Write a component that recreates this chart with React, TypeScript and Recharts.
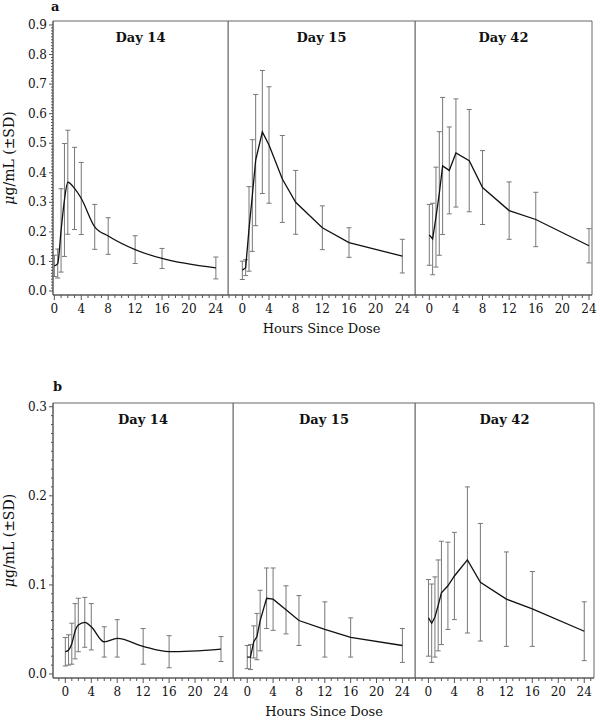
import { LineChart, Line, XAxis, YAxis, ErrorBar, ReferenceArea, Label } from 'recharts';

const hours = [0, 0.5, 1, 1.5, 2, 3, 4, 6, 8, 12, 16, 24];

// panel a
const aDay14Mean = [0.085, 0.093, 0.205, 0.308, 0.368, 0.347, 0.313, 0.217, 0.186, 0.14, 0.11, 0.078];
const aDay14Sd = [0.036, 0.049, 0.141, 0.191, 0.176, 0.139, 0.122, 0.076, 0.062, 0.047, 0.034, 0.037];
const aDay15Mean = [0.07, 0.079, 0.21, 0.323, 0.443, 0.538, 0.494, 0.379, 0.3, 0.214, 0.164, 0.118];
const aDay15Sd = [0.031, 0.027, 0.143, 0.189, 0.222, 0.208, 0.197, 0.147, 0.108, 0.074, 0.05, 0.057];
const aDay42Mean = [0.19, 0.176, 0.25, 0.33, 0.423, 0.408, 0.467, 0.441, 0.35, 0.272, 0.242, 0.153];
const aDay42Sd = [0.103, 0.121, 0.169, 0.209, 0.232, 0.147, 0.183, 0.173, 0.125, 0.097, 0.092, 0.058];

// panel b
const bDay14Mean = [0.025, 0.027, 0.034, 0.048, 0.055, 0.058, 0.053, 0.036, 0.04, 0.031, 0.025, 0.028];
const bDay14Sd = [0.016, 0.017, 0.023, 0.031, 0.03, 0.028, 0.026, 0.017, 0.021, 0.02, 0.018, 0.014];
const bDay15Mean = [0.019, 0.019, 0.036, 0.042, 0.06, 0.085, 0.084, 0.072, 0.06, 0.05, 0.041, 0.032];
const bDay15Sd = [0.013, 0.014, 0.018, 0.026, 0.034, 0.034, 0.035, 0.027, 0.028, 0.031, 0.022, 0.019];
const bDay42Mean = [0.063, 0.057, 0.064, 0.077, 0.091, 0.099, 0.11, 0.128, 0.103, 0.084, 0.073, 0.048];
const bDay42Sd = [0.043, 0.044, 0.045, 0.051, 0.058, 0.049, 0.049, 0.082, 0.066, 0.053, 0.042, 0.033];

const xMajorTicks = [0, 4, 8, 12, 16, 20, 24];
const aYMajorTicks = [0, 0.1, 0.2, 0.3, 0.4, 0.5, 0.6, 0.7, 0.8, 0.9];
const bYMajorTicks = [0, 0.1, 0.2, 0.3];
const titles = ['Day 14', 'Day 15', 'Day 42'];
const xLabel = 'Hours Since Dose';

const FONT = '"DejaVu Serif", "Liberation Serif", serif';
const AXIS = '#555';

const makeData = (mean: number[], sd: number[]) =>
  hours.map((t, i) => ({ t, mean: mean[i], sd: sd[i] }));

const range = (lo: number, hi: number) => {
  const out: number[] = [];
  for (let i = lo; i <= hi; i++) out.push(i);
  return out;
};

const XTick = (props: any) => {
  const { x, y, payload } = props;
  const v = payload.value;
  const major = xMajorTicks.includes(v);
  return (
    <g>
      <line x1={x} x2={x} y1={y} y2={y + (major ? 5 : 3)} stroke={AXIS} />
      {major && (
        <text x={x} y={y + 18} textAnchor="middle" fontSize={12} fontFamily={FONT} fill="#111">
          {v}
        </text>
      )}
    </g>
  );
};

const YTick = (props: any) => {
  const { x, y, payload } = props;
  const hundredths = Math.round(payload.value * 100);
  const major = hundredths % 10 === 0;
  return (
    <g>
      <line x1={x - (major ? 4 : 2)} x2={x} y1={y} y2={y} stroke={AXIS} />
      {major && (
        <text x={x - 6} y={y + 4} textAnchor="end" fontSize={12} fontFamily={FONT} fill="#111">
          {(hundredths / 100).toFixed(1)}
        </text>
      )}
    </g>
  );
};

interface PanelProps {
  data: { t: number; mean: number; sd: number }[];
  left: number;
  right: number;
  top: number;
  bottom: number;
  xDomain: [number, number];
  yDomain: [number, number];
  yMajor: number[];
  title: string;
  showY: boolean;
  showXLabel: boolean;
  smooth: boolean;
}

function Panel(p: PanelProps) {
  const axisW = p.showY ? 52 : 0;
  const padR = 12;
  const plotW = p.right - p.left;
  const plotH = p.bottom - p.top;
  const xTicks = range(Math.ceil(p.xDomain[0]), Math.floor(p.xDomain[1]));
  const yTicks = range(0, Math.round(p.yMajor[p.yMajor.length - 1] * 100)).map((v) => v / 100);
  return (
    <div style={{ position: 'absolute', left: p.left - axisW, top: p.top - 2 }}>
      <LineChart
        width={plotW + axisW + padR}
        height={plotH + 2 + 48}
        data={p.data}
        margin={{ top: 2, right: padR, bottom: 0, left: 0 }}
      >
        <XAxis
          type="number"
          dataKey="t"
          domain={p.xDomain}
          allowDataOverflow
          ticks={xTicks}
          interval={0}
          tick={<XTick />}
          tickLine={false}
          tickSize={0}
          tickMargin={0}
          height={48}
          axisLine={{ stroke: AXIS }}
        >
          {p.showXLabel && (
            <Label
              content={(lp: any) => {
                const vb = lp.viewBox;
                return (
                  <text
                    x={vb.x + vb.width / 2}
                    y={vb.y + 38}
                    textAnchor="middle"
                    fontSize={13}
                    fontFamily={FONT}
                    fill="#111"
                  >
                    {xLabel}
                  </text>
                );
              }}
            />
          )}
        </XAxis>
        <YAxis
          type="number"
          domain={p.yDomain}
          allowDataOverflow
          ticks={yTicks}
          interval={0}
          tick={<YTick />}
          tickLine={false}
          tickSize={0}
          tickMargin={0}
          width={axisW}
          hide={!p.showY}
          axisLine={{ stroke: AXIS }}
        >
          {p.showY && (
            <Label
              content={(lp: any) => {
                const vb = lp.viewBox;
                const cx = vb.x + 13;
                const cy = vb.y + vb.height / 2;
                return (
                  <text
                    x={cx}
                    y={cy}
                    transform={`rotate(-90 ${cx} ${cy})`}
                    textAnchor="middle"
                    fontSize={14}
                    fontFamily={FONT}
                    fill="#111"
                  >
                    <tspan fontStyle="italic">μ</tspan>
                    <tspan>g/mL (±SD)</tspan>
                  </text>
                );
              }}
            />
          )}
        </YAxis>
        <ReferenceArea
          x1={p.xDomain[0]}
          x2={p.xDomain[1]}
          y1={p.yDomain[0]}
          y2={p.yDomain[1]}
          fill="none"
          stroke="#666"
          strokeWidth={1}
          ifOverflow="visible"
          label={
            <Label
              content={(lp: any) => {
                const vb = lp.viewBox;
                return (
                  <text
                    x={vb.x + vb.width / 2}
                    y={vb.y + 21}
                    textAnchor="middle"
                    fontSize={13}
                    fontWeight="bold"
                    fontFamily={FONT}
                    fill="#111"
                  >
                    {p.title}
                  </text>
                );
              }}
            />
          }
        />
        <Line
          type={p.smooth ? 'monotone' : 'linear'}
          dataKey="mean"
          stroke="#111"
          strokeWidth={1.3}
          dot={false}
          isAnimationActive={false}
        >
          <ErrorBar dataKey="sd" width={2.5} stroke="#777" strokeWidth={1} isAnimationActive={false} />
        </Line>
      </LineChart>
    </div>
  );
}

const rowA = { top: 21, bottom: 295, yDomain: [-0.0135, 0.9135] as [number, number], yMajor: aYMajorTicks };
const rowB = { top: 403, bottom: 678, yDomain: [-0.0045, 0.3042] as [number, number], yMajor: bYMajorTicks };

const panelsA = [
  { data: makeData(aDay14Mean, aDay14Sd), left: 53, right: 228, xDomain: [-0.2, 25.8] as [number, number] },
  { data: makeData(aDay15Mean, aDay15Sd), left: 228, right: 415, xDomain: [-2.15, 25.9] as [number, number] },
  { data: makeData(aDay42Mean, aDay42Sd), left: 415, right: 592, xDomain: [-2.15, 24.45] as [number, number] },
];
const panelsB = [
  { data: makeData(bDay14Mean, bDay14Sd), left: 53, right: 233, xDomain: [-1.9, 25.85] as [number, number] },
  { data: makeData(bDay15Mean, bDay15Sd), left: 233, right: 415, xDomain: [-2.2, 25.95] as [number, number] },
  { data: makeData(bDay42Mean, bDay42Sd), left: 415, right: 594, xDomain: [-2.07, 25.5] as [number, number] },
];

export default function App() {
  return (
    <div style={{ position: 'absolute', left: 0, top: 0, width: 600, height: 726, background: '#fff', fontFamily: FONT }}>
      <div style={{ position: 'absolute', left: 51, top: 0, fontSize: 13, lineHeight: '13px', fontWeight: 'bold', color: '#111' }}>a</div>
      <div style={{ position: 'absolute', left: 53, top: 380, fontSize: 13, lineHeight: '13px', fontWeight: 'bold', color: '#111' }}>b</div>
      {panelsA.map((pn, i) => (
        <Panel
          key={'a' + i}
          {...pn}
          {...rowA}
          title={titles[i]}
          showY={i === 0}
          showXLabel={i === 1}
          smooth={i === 0}
        />
      ))}
      {panelsB.map((pn, i) => (
        <Panel
          key={'b' + i}
          {...pn}
          {...rowB}
          title={titles[i]}
          showY={i === 0}
          showXLabel={i === 1}
          smooth={i === 0}
        />
      ))}
    </div>
  );
}
